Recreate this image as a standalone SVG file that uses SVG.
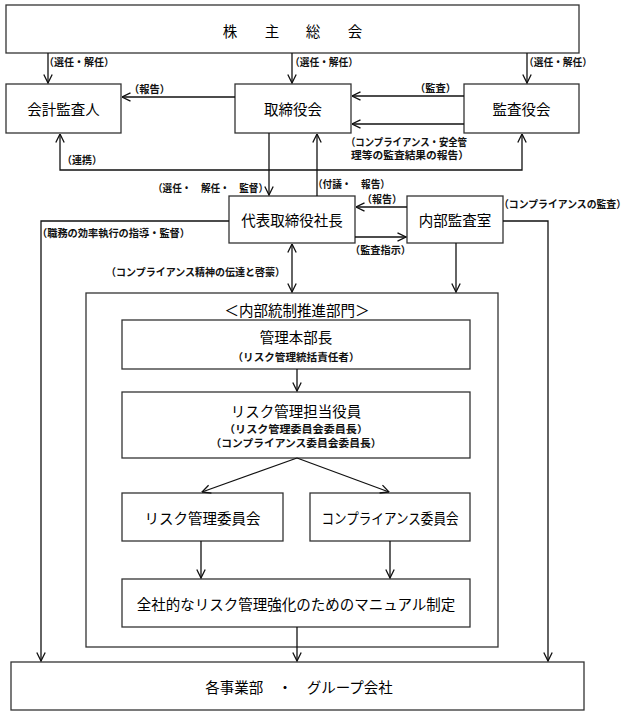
<svg xmlns="http://www.w3.org/2000/svg" width="639" height="720" viewBox="0 0 639 720">
<style>
.box{fill:#fff;stroke:#333;stroke-width:1.3}
.t{font-family:"Noto Sans CJK JP","Liberation Sans",sans-serif;font-size:14.5px;fill:#000;text-anchor:middle;dominant-baseline:central}
.s{font-family:"Noto Sans CJK JP","Liberation Sans",sans-serif;font-size:10.5px;font-weight:bold;fill:#111;dominant-baseline:central}
.sm{text-anchor:middle}
.c{fill:none;stroke:#111;stroke-width:1.3}
</style>
<defs>
<marker id="ah" viewBox="0 0 10 10" refX="9.5" refY="5" markerWidth="10" markerHeight="10" markerUnits="userSpaceOnUse" orient="auto-start-reverse">
<path d="M1,0.8 L9.5,5 L1,9.2" fill="none" stroke="#111" stroke-width="1.3"/>
</marker>
</defs>
<rect width="639" height="720" fill="#fff"/>

<g id="shareholders">
<rect class="box" x="6" y="5" width="573" height="48"/>
<text class="t" x="230 272 313 355" y="30">株主総会</text>
</g>
<g id="auditor">
<rect class="box" x="6" y="84" width="115" height="49"/>
<text class="t" x="63.5" y="108.5">会計監査人</text>
</g>
<g id="board">
<rect class="box" x="235" y="84" width="116" height="49"/>
<text class="t" x="293" y="108.5">取締役会</text>
</g>
<g id="auditboard">
<rect class="box" x="464" y="84" width="115" height="49"/>
<text class="t" x="521.5" y="108.5">監査役会</text>
</g>
<g id="president">
<rect class="box" x="229" y="196" width="126" height="47"/>
<text class="t" x="292" y="219.5">代表取締役社長</text>
</g>
<g id="internalaudit">
<rect class="box" x="407" y="196" width="96" height="47"/>
<text class="t" x="455" y="219.5">内部監査室</text>
</g>
<g id="internalcontrol">
<rect class="box" x="86" y="293" width="412" height="354" stroke="#444"/>
<text class="t" x="297" y="309">＜内部統制推進部門＞</text>
</g>
<g id="mgmthead">
<rect class="box" x="122" y="320" width="348" height="49"/>
<text class="t" x="296" y="336.5">管理本部長</text>
<text class="s sm" x="296" y="356.5" textLength="127" lengthAdjust="spacingAndGlyphs">（リスク管理統括責任者）</text>
</g>
<g id="riskofficer">
<rect class="box" x="122" y="392" width="348" height="66"/>
<text class="t" x="296" y="410">リスク管理担当役員</text>
<text class="s sm" x="296" y="428" textLength="144" lengthAdjust="spacingAndGlyphs">（リスク管理委員会委員長）</text>
<text class="s sm" x="296" y="442" textLength="171" lengthAdjust="spacingAndGlyphs">（コンプライアンス委員会委員長）</text>
</g>
<g id="riskcommittee">
<rect class="box" x="122" y="493" width="161" height="48"/>
<text class="t" x="202.5" y="517">リスク管理委員会</text>
</g>
<g id="compcommittee">
<rect class="box" x="310" y="493" width="160" height="48"/>
<text class="t" x="390" y="517" textLength="137" lengthAdjust="spacingAndGlyphs">コンプライアンス委員会</text>
</g>
<g id="manual">
<rect class="box" x="122" y="579" width="348" height="48"/>
<text class="t" x="296" y="603">全社的なリスク管理強化のためのマニュアル制定</text>
</g>
<g id="divisions">
<rect class="box" x="11" y="662" width="573" height="48"/>
<text class="t" x="299" y="686">各事業部　・　グループ会社</text>
</g>

<g id="connectors">
<path class="c" d="M48,53 V83" marker-end="url(#ah)"/>
<path class="c" d="M292,53 V83" marker-end="url(#ah)"/>
<path class="c" d="M527,53 V83" marker-end="url(#ah)"/>
<path class="c" d="M235,97 H122" marker-end="url(#ah)"/>
<path class="c" d="M464,96 H352" marker-end="url(#ah)"/>
<path class="c" d="M464,124 H352" marker-end="url(#ah)"/>
<path class="c" d="M60,134 V170 H522 V134" marker-start="url(#ah)" marker-end="url(#ah)"/>
<path class="c" d="M269,133 V195" marker-end="url(#ah)"/>
<path class="c" d="M317,196 V134" marker-end="url(#ah)"/>
<path class="c" d="M407,207 H356" marker-end="url(#ah)"/>
<path class="c" d="M355,237 H406" marker-end="url(#ah)"/>
<path class="c" d="M456,243 V292" marker-end="url(#ah)"/>
<path class="c" d="M292,244 V292" marker-start="url(#ah)" marker-end="url(#ah)"/>
<path class="c" d="M229,221 H41 V661" marker-end="url(#ah)"/>
<path class="c" d="M503,221 H548 V661" marker-end="url(#ah)"/>
<path class="c" d="M297,369 V391" marker-end="url(#ah)"/>
<path class="c" d="M297,458 L202,492" marker-end="url(#ah)"/>
<path class="c" d="M297,458 L389,492" marker-end="url(#ah)"/>
<path class="c" d="M201,541 V578" marker-end="url(#ah)"/>
<path class="c" d="M390,541 V578" marker-end="url(#ah)"/>
<path class="c" d="M297,627 V661" marker-end="url(#ah)"/>
</g>

<g id="labels">
<text class="s" x="44" y="61" textLength="70" lengthAdjust="spacingAndGlyphs">（選任・解任）</text>
<text class="s" x="290" y="61" textLength="68" lengthAdjust="spacingAndGlyphs">（選任・解任）</text>
<text class="s" x="524" y="61" textLength="68" lengthAdjust="spacingAndGlyphs">（選任・解任）</text>
<text class="s" x="129" y="88" textLength="41" lengthAdjust="spacingAndGlyphs">（報告）</text>
<text class="s" x="415" y="87" textLength="41" lengthAdjust="spacingAndGlyphs">（監査）</text>
<text class="s" x="346" y="141" textLength="121" lengthAdjust="spacingAndGlyphs">（コンプライアンス・安全管</text>
<text class="s" x="351" y="154.5" textLength="118" lengthAdjust="spacingAndGlyphs">理等の監査結果の報告）</text>
<text class="s" x="62" y="159" textLength="40" lengthAdjust="spacingAndGlyphs">（連携）</text>
<text class="s" x="153" y="187" textLength="115" lengthAdjust="spacingAndGlyphs">（選任・　解任・　監督）</text>
<text class="s" x="313" y="183" textLength="77" lengthAdjust="spacingAndGlyphs">（付議・　報告）</text>
<text class="s" x="362" y="198.5" textLength="40" lengthAdjust="spacingAndGlyphs">（報告）</text>
<text class="s" x="350" y="249" textLength="61" lengthAdjust="spacingAndGlyphs">（監査指示）</text>
<text class="s" x="499" y="203" textLength="127" lengthAdjust="spacingAndGlyphs">（コンプライアンスの監査）</text>
<text class="s" x="37" y="232" textLength="153" lengthAdjust="spacingAndGlyphs">（職務の効率執行の指導・監督）</text>
<text class="s" x="106" y="271" textLength="179" lengthAdjust="spacingAndGlyphs">（コンプライアンス精神の伝達と啓蒙）</text>
</g>
</svg>
